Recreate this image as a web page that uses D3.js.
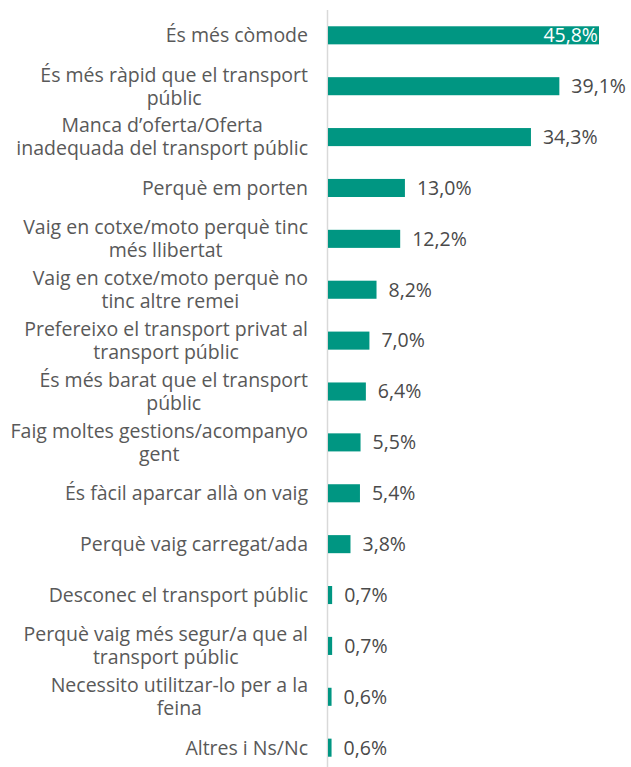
<!DOCTYPE html>
<html lang="ca">
<head>
    <meta charset="UTF-8">
    <title>Motius per anar en vehicle privat</title>
    <script src="https://d3js.org/d3.v7.min.js"></script>
    <style>
        body { margin: 0; background: #fff; }
        text { font-family: "Open Sans", sans-serif; }
        .cat text { font-size: 19.5px; fill: #595959; }
        .val { font-size: 19.5px; fill: #4a4a4a; }
    </style>
</head>
<body>
    <svg id="chart" width="631" height="767"></svg>
    <script>
        // categories (line breaks as in the original)
        const categories = [
            "És més còmode",
            "És més ràpid que el transport\npúblic",
            "Manca d’oferta/Oferta\ninadequada del transport públic",
            "Perquè em porten",
            "Vaig en cotxe/moto perquè tinc\nmés llibertat",
            "Vaig en cotxe/moto perquè no\ntinc altre remei",
            "Prefereixo el transport privat al\ntransport públic",
            "És més barat que el transport\npúblic",
            "Faig moltes gestions/acompanyo\ngent",
            "És fàcil aparcar allà on vaig",
            "Perquè vaig carregat/ada",
            "Desconec el transport públic",
            "Perquè vaig més segur/a que al\ntransport públic",
            "Necessito utilitzar-lo per a la\nfeina",
            "Altres i Ns/Nc"
        ];
        const values = [45.8, 39.1, 34.3, 13.0, 12.2, 8.2, 7.0, 6.4, 5.5, 5.4, 3.8, 0.7, 0.7, 0.6, 0.6];

        const svg = d3.select("#chart");
        const x0 = 328;
        const labelRight = 308;

        const x = d3.scaleLinear().domain([0, 45.8]).range([x0, 599]);
        const y = d3.scaleBand().domain(categories).range([10, 773]).paddingInner(0.645).paddingOuter(0.32);

        const fmt = v => d3.format(".1f")(v).replace(".", ",") + "%";

        // axis line
        svg.append("line")
            .attr("x1", 327.5).attr("x2", 327.5)
            .attr("y1", 10).attr("y2", 767)
            .attr("stroke", "#d9d9d9")
            .attr("stroke-width", 1.5);

        svg.append("g")
            .selectAll("rect")
            .data(values)
            .join("rect")
            .attr("x", x0)
            .attr("y", (d, i) => y(categories[i]))
            .attr("width", d => x(d) - x0)
            .attr("height", y.bandwidth())
            .attr("fill", "#009682");

        // category labels: wrapped lines centred inside a block that ends at labelRight
        const cat = svg.append("g").attr("class", "cat")
            .selectAll("text")
            .data(categories)
            .join("text")
            .attr("y", d => y(d) + y.bandwidth() / 2)
            .attr("text-anchor", "middle");
        cat.each(function (d) {
            const lines = d.split("\n");
            const t = d3.select(this);
            const spans = lines.map((l, j) => t.append("tspan")
                .attr("dy", j === 0 ? (0.35 - (lines.length - 1) * 0.59) + "em" : "1.18em")
                .text(l));
            const w = d3.max(spans, s => s.node().getComputedTextLength());
            spans.forEach(s => s.attr("x", labelRight - w / 2));
        });

        // value labels
        svg.append("g")
            .selectAll("text")
            .data(values)
            .join("text")
            .attr("class", "val")
            .attr("x", (d, i) => i === 0 ? x(d) - 1 : x(d) + 12)
            .attr("y", (d, i) => y(categories[i]) + y.bandwidth() / 2)
            .attr("dy", "0.35em")
            .attr("text-anchor", (d, i) => i === 0 ? "end" : "start")
            .style("fill", (d, i) => i === 0 ? "#fff" : null)
            .text(fmt);
    </script>
</body>
</html>
